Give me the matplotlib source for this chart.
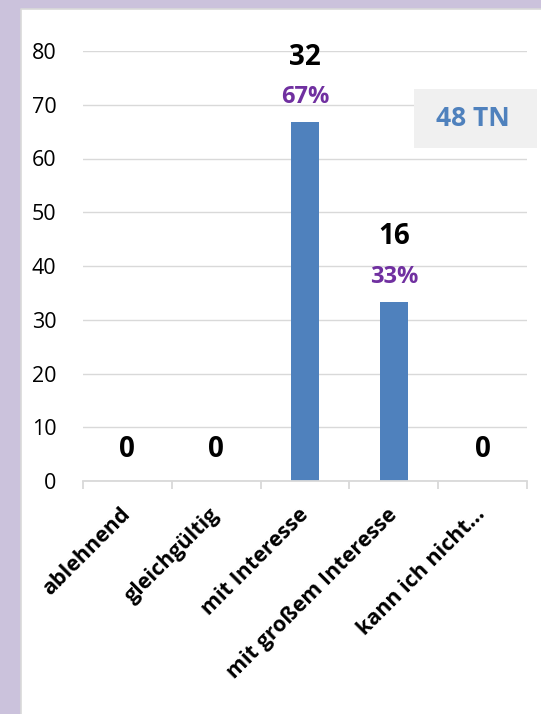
import matplotlib.pyplot as plt
import matplotlib.patches as patches
import numpy as np

plt.rcParams['font.family'] = ['Open Sans', 'DejaVu Sans']

# Interest in the topic, 48 participants
categories = ["ablehnend", "gleichgültig", "mit Interesse", "mit großem Interesse", "kann ich nicht..."]
counts = [0, 0, 32, 16, 0]
percents = [0, 0, 66.7, 33.3, 0]
total_label = "48 TN"

bar_color = "#4F81BD"
pct_color = "#7030A0"
grid_color = "#D9D9D9"

fig = plt.figure(figsize=(5.41, 7.14), dpi=100, facecolor="#CBC2DC")
# white panel, thin grey edge on left and top
px, py = 21/541, 1 - 9/714
fig.patches.append(patches.Rectangle((px, 0), 1.0, py, transform=fig.transFigure,
                                     facecolor="white", edgecolor="none", zorder=-5))
fig.lines.append(plt.Line2D([px, px, 1.0], [0, py, py], transform=fig.transFigure,
                            color=grid_color, linewidth=1.2, zorder=-4))

ax = fig.add_axes([83/541, 1 - 481/714, 444/541, 430/714])
ax.set_facecolor("none")
x = np.arange(len(categories))
ax.bar(x, percents, width=0.315, color=bar_color, zorder=3)

ax.set_xlim(-0.5, len(categories) - 0.5)
ax.set_ylim(0, 80)
ax.set_yticks(np.arange(0, 81, 10))
ax.yaxis.grid(True, color=grid_color, linewidth=1.0, zorder=0)
ax.tick_params(axis="y", length=0, pad=19, labelsize=15.5)
for s in ["left", "right", "top"]:
    ax.spines[s].set_visible(False)
ax.spines["bottom"].set_color(grid_color)
ax.spines["bottom"].set_linewidth(1.3)
ax.spines["bottom"].set_zorder(4)

ax.set_xticks(x)
ax.set_xticklabels(categories, rotation=45, ha="right", va="center",
                   rotation_mode="anchor", fontweight="bold", fontsize=15.5)
ax.tick_params(axis="x", which="major", length=0, pad=22)
ax.set_xticks(np.arange(-0.5, len(categories)), minor=True)
ax.tick_params(axis="x", which="minor", length=6, width=1.3, color=grid_color)

# data labels
for xi, c, p in zip(x, counts, percents):
    if c == 0:
        ax.annotate(str(c), (xi, 0), xytext=(0, 23), textcoords="offset points",
                    ha="center", va="center", fontsize=20, fontweight="bold", color="black")
    else:
        ax.annotate(str(c), (xi, p), xytext=(0, 47), textcoords="offset points",
                    ha="center", va="center", fontsize=20, fontweight="bold", color="black")
        ax.annotate(f"{p:.0f}%", (xi, p), xytext=(0, 18), textcoords="offset points",
                    ha="center", va="center", fontsize=17, fontweight="bold", color=pct_color)

# participant box
fig.patches.append(patches.Rectangle((414/541, 1 - 148/714), 123/541, 59/714, transform=fig.transFigure,
                                     facecolor="#F0F0F0", edgecolor="none", zorder=5))
fig.text(473/541, 1 - 119/714, total_label, ha="center", va="center", fontsize=19,
         fontweight="bold", color=bar_color, zorder=6)

fig.savefig("out.png", dpi=100, facecolor=fig.get_facecolor())
